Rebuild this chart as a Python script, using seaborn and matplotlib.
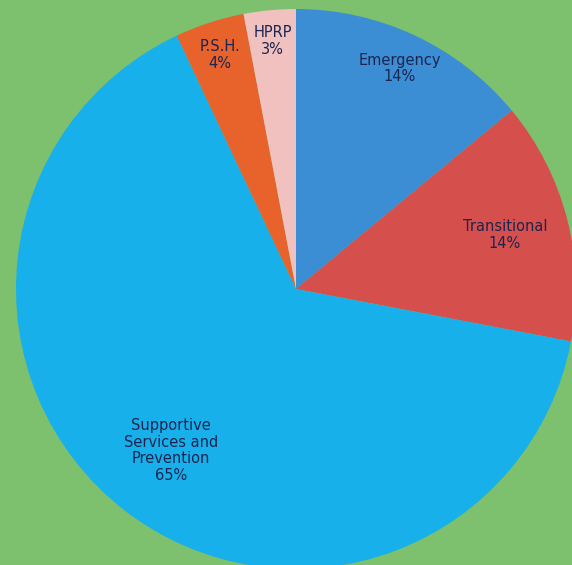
import numpy as np
import matplotlib
matplotlib.use("Agg")
import matplotlib.pyplot as plt
import seaborn as sns

# Values (percent of funding)
categories = ["Emergency", "Transitional", "Supportive\nServices and\nPrevention", "P.S.H.", "HPRP"]
shares = [14, 14, 65, 4, 3]
colors = ["#3b8ed3", "#d54f4c", "#17b0ea", "#e8622c", "#f1c1c0"]
label_radius = [0.87, 0.77, 0.73, 0.88, 0.89]

sns.set_theme(style="white")
plt.rcParams['font.family'] = ['DejaVu Sans']

bg = "#7dc06e"
fig = plt.figure(figsize=(5.72, 5.65), dpi=100, facecolor=bg)
# pie centre at (296, 289) px with radius 280 px, spilling a little past the edges
ax = fig.add_axes([16 / 572, (565 - 289 - 280) / 565, 560 / 572, 560 / 565])
ax.set_facecolor(bg)

wedges, _ = ax.pie(shares, colors=colors, startangle=90, counterclock=False,
                   radius=1, wedgeprops=dict(linewidth=0))

for w, name, v, r in zip(wedges, categories, shares, label_radius):
    ang = np.deg2rad((w.theta1 + w.theta2) / 2)
    ax.text(r * np.cos(ang), r * np.sin(ang), f"{name}\n{v}%", ha="center", va="center",
            fontsize=10.5, color="#1b2550", linespacing=1.15)

ax.set_xlim(-1, 1)
ax.set_ylim(-1, 1)
ax.set_aspect("equal")
ax.axis("off")

fig.savefig("out.png", dpi=100, facecolor=bg)
